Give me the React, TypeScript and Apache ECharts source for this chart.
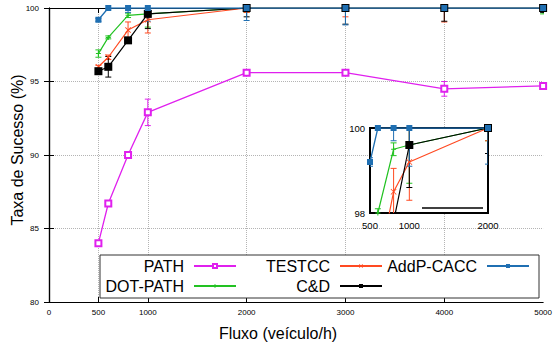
import React, { useEffect, useRef } from "react";
import * as echarts from "echarts";

// ---- data ----
const flows = [500, 600, 800, 1000, 2000, 3000, 4000, 5000];

const pathValues = [84.0, 86.7, 90.0, 92.9, 95.6, 95.6, 94.5, 94.7];
const pathErrors = [0.15, 0.2, 0.1, 0.9, 0.1, 0.1, 0.5, 0.1];

const dotPathValues = [96.9, 98.0, 99.5, 99.6, 100, 100, 100, 100];
const dotPathErrors = [0.25, 0.1, 0.15, 0.9, 0.3, 0.1, 0.1, 0.4];

const testccValues = [96.0, 96.65, 98.5, 99.2, 100, 100, 100, 100];
const testccErrors = [0.1, 0.15, 0.55, 0.9, 0.3, 0.6, 0.95, 0.1];

const cdValues = [95.7, 96.0, 97.8, 99.6, 100, 100, 100, 100];
const cdErrors = [0.15, 0.7, 0.15, 1.0, 0.6, 1.1, 0.9, 0.3];

const addpValues = [99.2, 100, 100, 100, 100, 100, 100, 100];
const addpErrors = [0.1, 0.05, 0.3, 0.9, 0.85, 1.15, 0.1, 0.1];

const xTickLabels = [0, 500, 1000, 2000, 3000, 4000, 5000];
const xGridValues = [500, 1000, 2000, 3000, 4000];
const insetXLabels = [500, 1000, 2000];

const FONT = "Liberation Sans";

const X_CROSS =
  "path://M0,1L1,0L5,4L9,0L10,1L6,5L10,9L9,10L5,6L1,10L0,9L4,5Z";
const PLUS =
  "path://M4,0L6,0L6,4L10,4L10,6L6,6L6,10L4,10L4,6L0,6L0,4L4,4Z";

type SeriesDef = {
  name: string;
  values: number[];
  errors: number[];
  color: string;
  symbol: string;
  symbolSize: number;
  width: number;
};

const seriesDefs: SeriesDef[] = [
  { name: "PATH", values: pathValues, errors: pathErrors, color: "#e020ee", symbol: "emptyRect", symbolSize: 6, width: 1.3 },
  { name: "DOT-PATH", values: dotPathValues, errors: dotPathErrors, color: "#22c222", symbol: PLUS, symbolSize: 5, width: 1.2 },
  { name: "TESTCC", values: testccValues, errors: testccErrors, color: "#ff4a22", symbol: X_CROSS, symbolSize: 6, width: 1.2 },
  { name: "C&D", values: cdValues, errors: cdErrors, color: "#000000", symbol: "rect", symbolSize: 8, width: 1.2 },
  { name: "AddP-CACC", values: addpValues, errors: addpErrors, color: "#1f6fb2", symbol: "rect", symbolSize: 6, width: 1.3 },
];

function makeSeries(def: SeriesDef, axisIndex: number) {
  const lineData = flows.map((f, i) => [f, def.values[i]]);
  const errData = flows.map((f, i) => [f, def.values[i], def.errors[i]]);
  const line = {
    type: "line",
    name: def.name,
    xAxisIndex: axisIndex,
    yAxisIndex: axisIndex,
    data: lineData,
    symbol: def.symbol,
    symbolSize: def.symbolSize,
    showSymbol: true,
    clip: true,
    lineStyle: { color: def.color, width: def.width },
    itemStyle: { color: def.color, borderColor: def.color, borderWidth: def.symbol === "emptyRect" ? 1.3 : 0 },
    z: 2,
  };
  const err = {
    type: "custom",
    name: def.name + "-err" + axisIndex,
    xAxisIndex: axisIndex,
    yAxisIndex: axisIndex,
    data: errData,
    clip: true,
    encode: { x: 0, y: 1 },
    z: 2,
    renderItem: (params: any, api: any) => {
      const x = api.value(0);
      const y = api.value(1);
      const e = api.value(2);
      const hi = api.coord([x, y + e]);
      const lo = api.coord([x, y - e]);
      const w = 3;
      const style = { stroke: def.color, lineWidth: 1 };
      return {
        type: "group",
        children: [
          { type: "line", shape: { x1: hi[0], y1: hi[1], x2: lo[0], y2: lo[1] }, style },
          { type: "line", shape: { x1: hi[0] - w, y1: hi[1], x2: hi[0] + w, y2: hi[1] }, style },
          { type: "line", shape: { x1: lo[0] - w, y1: lo[1], x2: lo[0] + w, y2: lo[1] }, style },
        ],
      };
    },
  };
  return [err, line];
}

const dotted = { color: "#b4b4b4", type: "dotted", width: 1 };
const blackLine = { show: true, lineStyle: { color: "#000", width: 1.2 } };
const plainNum = (v: number) => String(v);

export default function App() {
  const ref = useRef<HTMLDivElement>(null);

  useEffect(() => {
    if (!ref.current) return;
    const chart = echarts.init(ref.current, undefined, { renderer: "svg" });

    const legendBase = {
      align: "right",
      orient: "horizontal",
      itemWidth: 42,
      itemHeight: 5,
      padding: 0,
      selectedMode: false,
      textStyle: { fontSize: 16, fontFamily: FONT, color: "#000", padding: [0, 5, 0, 0] },
      z: 5,
    };

    const series: any[] = [];
    seriesDefs.forEach((d) => series.push(...makeSeries(d, 0)));
    seriesDefs.forEach((d) => series.push(...makeSeries(d, 2)));

    const option: any = {
      animation: false,
      textStyle: { fontFamily: FONT },
      grid: [
        { left: 49, right: 10, top: 8, bottom: 43 },
        { left: 370, right: 67, top: 128, bottom: 132 },
      ],
      xAxis: [
        {
          type: "value",
          gridIndex: 0,
          min: 0,
          max: 5000,
          interval: 500,
          position: "bottom",
          axisLine: blackLine,
          axisTick: { show: true, inside: true, length: 5, customValues: xGridValues, lineStyle: { color: "#000" } },
          axisLabel: { customValues: xTickLabels, formatter: plainNum, fontSize: 8, color: "#000", margin: 6, fontFamily: FONT },
          splitLine: { show: true, customValues: xGridValues, lineStyle: dotted },
        },
        {
          type: "value",
          gridIndex: 0,
          min: 0,
          max: 5000,
          interval: 500,
          position: "top",
          axisLine: blackLine,
          axisTick: { show: true, inside: true, length: 5, customValues: xGridValues, lineStyle: { color: "#000" } },
          axisLabel: { show: false },
          splitLine: { show: false },
        },
        {
          type: "value",
          gridIndex: 1,
          min: 500,
          max: 2000,
          interval: 500,
          axisLine: { show: false },
          axisTick: { show: false },
          axisLabel: { customValues: insetXLabels, formatter: plainNum, fontSize: 9.5, color: "#000", margin: 7, fontFamily: FONT },
          splitLine: { show: false },
        },
      ],
      yAxis: [
        {
          type: "value",
          gridIndex: 0,
          min: 80,
          max: 100,
          interval: 5,
          position: "left",
          axisLine: blackLine,
          axisTick: { show: true, inside: true, length: 5, lineStyle: { color: "#000" } },
          axisLabel: { fontSize: 8, color: "#000", margin: 10, fontFamily: FONT },
          splitLine: { show: true, lineStyle: dotted },
        },
        {
          type: "value",
          gridIndex: 0,
          min: 80,
          max: 100,
          interval: 5,
          position: "right",
          axisLine: blackLine,
          axisTick: { show: true, inside: true, length: 5, lineStyle: { color: "#000" } },
          axisLabel: { show: false },
          splitLine: { show: false },
        },
        {
          type: "value",
          gridIndex: 1,
          min: 98,
          max: 100,
          interval: 2,
          axisLine: { show: false },
          axisTick: { show: false },
          axisLabel: { fontSize: 9.5, color: "#000", margin: 5, fontFamily: FONT },
          splitLine: { show: false },
        },
      ],
      legend: [
        { data: ["PATH"], right: 318, top: 258 },
        { data: ["DOT-PATH"], right: 318, top: 278 },
        { data: ["TESTCC"], right: 172, top: 258 },
        { data: ["C&D"], right: 172, top: 278 },
        { data: ["AddP-CACC"], right: 25, top: 258 },
      ].map((l) => ({ ...legendBase, ...l })),
      graphic: [
        {
          type: "rect",
          z: 1,
          shape: { x: 370, y: 128, width: 118, height: 85 },
          style: { fill: "#fff", stroke: "#000", lineWidth: 2 },
        },
        {
          type: "line",
          z: 3,
          shape: { x1: 422, y1: 208, x2: 483, y2: 208 },
          style: { stroke: "#000", lineWidth: 1.3 },
        },
        {
          type: "rect",
          z: 3,
          shape: { x: 100, y: 255, width: 439, height: 43 },
          style: { fill: "#fff", stroke: "#333", lineWidth: 1 },
        },
        {
          type: "text",
          z: 3,
          x: 278,
          y: 333,
          style: {
            text: "Fluxo (veículo/h)",
            font: `16px "${FONT}"`,
            fill: "#000",
            textAlign: "center",
            textVerticalAlign: "middle",
          },
        },
        {
          type: "text",
          z: 3,
          x: 17,
          y: 150,
          rotation: Math.PI / 2,
          style: {
            text: "Taxa de Sucesso (%)",
            font: `16px "${FONT}"`,
            fill: "#000",
            textAlign: "center",
            textVerticalAlign: "middle",
          },
        },
      ],
      series,
    };

    chart.setOption(option);
    return () => chart.dispose();
  }, []);

  return (
    <div
      ref={ref}
      style={{ position: "fixed", left: 0, top: 0, width: 555, height: 345, background: "#fff" }}
    />
  );
}
